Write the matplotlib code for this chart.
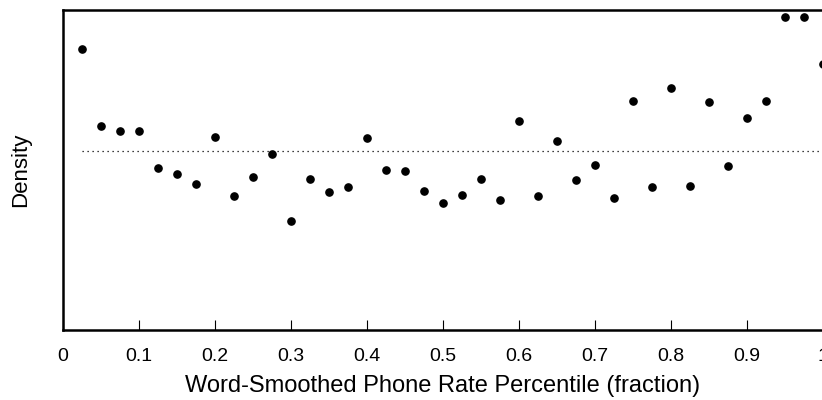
import numpy as np
import matplotlib.pyplot as plt

plt.rcParams['font.family'] = ['Liberation Sans', 'DejaVu Sans']

# percentile bins (fraction) and the density in each bin
percentile = [0.025, 0.05, 0.075, 0.1, 0.125, 0.15, 0.175, 0.2, 0.225, 0.25,
              0.275, 0.3, 0.325, 0.35, 0.375, 0.4, 0.425, 0.45, 0.475, 0.5,
              0.525, 0.55, 0.575, 0.6, 0.625, 0.65, 0.675, 0.7, 0.725, 0.75,
              0.775, 0.8, 0.825, 0.85, 0.875, 0.9, 0.925, 0.95, 0.975, 1.0]
density = [1.565, 1.137, 1.109, 1.109, 0.903, 0.869, 0.813, 1.075, 0.747, 0.852,
           0.981, 0.607, 0.841, 0.769, 0.797, 1.070, 0.891, 0.886, 0.774, 0.708,
           0.752, 0.841, 0.724, 1.164, 0.747, 1.053, 0.836, 0.919, 0.735, 1.276,
           0.797, 1.348, 0.802, 1.270, 0.914, 1.181, 1.276, 1.744, 1.744, 1.482]
uniform_level = 1.0
xticks = [0, 0.1, 0.2, 0.3, 0.4, 0.5, 0.6, 0.7, 0.8, 0.9, 1]
xticklabels = ['0', '0.1', '0.2', '0.3', '0.4', '0.5', '0.6', '0.7', '0.8', '0.9', '1']

fig = plt.figure(figsize=(8.22, 4), dpi=100)
ax = fig.add_axes([63 / 822, 70 / 400, 760 / 822, 320 / 400])

ax.plot([percentile[0], percentile[-1]], [uniform_level, uniform_level],
        color='black', linestyle=(0, (1, 3)), linewidth=0.9)
ax.plot(percentile, density, 'o', color='black', markersize=5.2, clip_on=True)

ax.set_xlim(0, 1)
ax.set_ylim(0, 1.783)
ax.set_xticks(xticks)
ax.set_xticklabels(xticklabels)
ax.set_yticks([])
ax.tick_params(axis='x', direction='in', length=7.2, width=0.8, pad=13,
               labelsize=14, top=False)
for sp in ax.spines.values():
    sp.set_linewidth(1.8)

ax.set_xlabel('Word-Smoothed Phone Rate Percentile (fraction)', fontsize=17, labelpad=7)
ax.set_ylabel('Density', fontsize=16, labelpad=23)

fig.savefig('out.png', dpi=100)
